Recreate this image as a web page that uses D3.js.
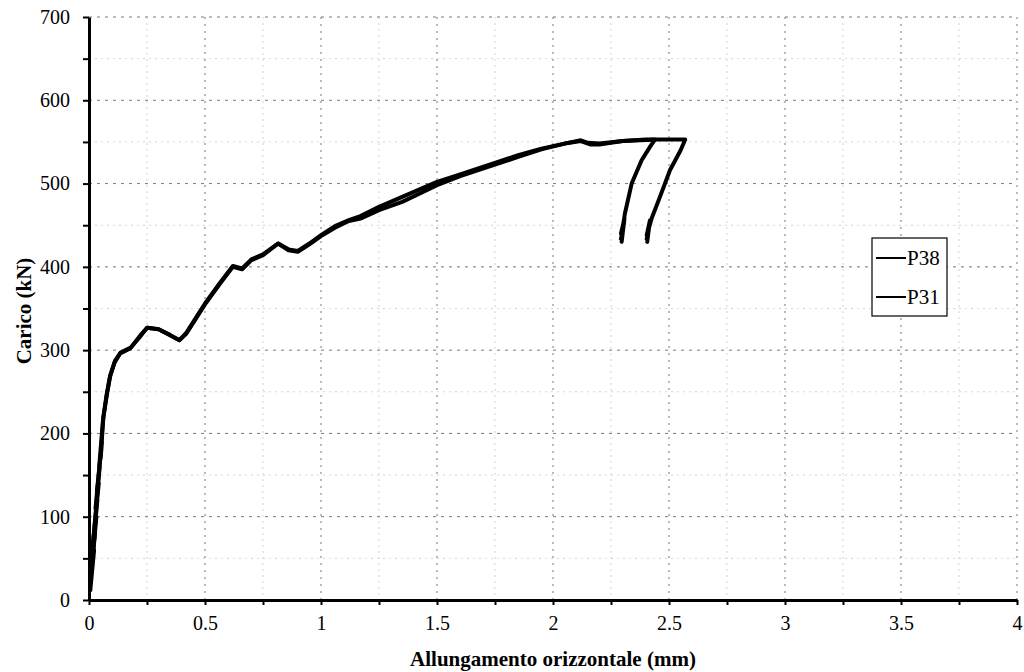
<!DOCTYPE html>
<html>
<head>
<meta charset="utf-8">
<script src="https://cdn.jsdelivr.net/npm/d3@7"></script>
<style>
  body { margin: 0; background: #fff; }
  text { font-family: "Liberation Serif", "Times New Roman", serif; }
</style>
</head>
<body>
<svg id="chart" width="1024" height="672"></svg>
<script>
// data: load (kN) vs horizontal elongation (mm)
var xTicks = [0, 0.5, 1, 1.5, 2, 2.5, 3, 3.5, 4]
var xTickLabels = ['0', '0.5', '1', '1.5', '2', '2.5', '3', '3.5', '4']
var yTicks = [0, 100, 200, 300, 400, 500, 600, 700]
var seriesNames = ['P38', 'P31']

var p38X = [0.005, 0.022, 0.008, 0.032, 0.014, 0.042, 0.028, 0.052, 0.044, 0.06, 0.075, 0.09, 0.11, 0.134, 0.177, 0.22, 0.25, 0.3, 0.35, 0.39, 0.42, 0.5, 0.565, 0.62, 0.66, 0.7, 0.75, 0.815, 0.86, 0.9, 0.95, 1.0, 1.06, 1.12, 1.17, 1.25, 1.35, 1.5, 1.6, 1.73, 1.85, 1.95, 2.05, 2.12, 2.15, 2.2, 2.3, 2.4, 2.44, 2.42, 2.382, 2.339, 2.31, 2.302, 2.296, 2.308, 2.293, 2.306, 2.292]
var p38Y = [10, 60, 30, 100, 60, 140, 110, 180, 160, 215, 245, 268, 285, 296, 302, 316, 327, 325, 318, 312, 320, 355, 380, 400, 397, 408, 414, 428, 420, 418, 427, 437, 447, 455, 458, 468, 478, 498, 509, 521, 532, 541, 548, 552, 549, 548, 551, 553, 553, 545, 528, 500, 464, 450, 430, 458, 440, 452, 432]

var p31X = [0.005, 0.026, 0.01, 0.036, 0.018, 0.046, 0.034, 0.056, 0.05, 0.062, 0.078, 0.092, 0.112, 0.136, 0.18, 0.222, 0.252, 0.3, 0.35, 0.39, 0.42, 0.5, 0.565, 0.62, 0.66, 0.7, 0.75, 0.815, 0.86, 0.9, 0.95, 1.0, 1.06, 1.12, 1.17, 1.25, 1.35, 1.5, 1.6, 1.73, 1.85, 1.95, 2.05, 2.12, 2.16, 2.2, 2.3, 2.45, 2.57, 2.55, 2.504, 2.461, 2.425, 2.412, 2.406, 2.418, 2.404, 2.416, 2.403]
var p31Y = [20, 80, 40, 120, 70, 160, 130, 190, 170, 220, 248, 270, 287, 297, 303, 318, 327, 325, 318, 312, 321, 356, 381, 401, 398, 409, 415, 428, 421, 419, 428, 438, 449, 456, 461, 472, 484, 502, 511, 523, 534, 542, 548, 551, 547, 547, 551, 553, 553, 540, 516, 484, 458, 445, 430, 456, 438, 450, 432]

var svg = d3.select('#chart')
var mLeft = 89, mRight = 1017, mTop = 17, mBottom = 600

var x = d3.scaleLinear().domain([0, 4]).range([mLeft, mRight])
var y = d3.scaleLinear().domain([0, 700]).range([mBottom, mTop])

// grid: faint minor lines, then darker major ones
var minorX = d3.range(0.25, 4, 0.5)
var minorY = d3.range(50, 700, 100)
var grid = svg.append('g')
grid.selectAll('line.mx').data(minorX).enter().append('line')
    .attr('x1', d => x(d)).attr('x2', d => x(d))
    .attr('y1', mTop).attr('y2', mBottom)
    .attr('stroke', '#d4d4d4').attr('stroke-dasharray', '2,4')
grid.selectAll('line.my').data(minorY).enter().append('line')
    .attr('x1', mLeft).attr('x2', mRight)
    .attr('y1', d => y(d)).attr('y2', d => y(d))
    .attr('stroke', '#d4d4d4').attr('stroke-dasharray', '2,4')
grid.selectAll('line.gx').data(xTicks.slice(1)).enter().append('line')
    .attr('x1', d => x(d)).attr('x2', d => x(d))
    .attr('y1', mTop).attr('y2', mBottom)
    .attr('stroke', '#777').attr('stroke-dasharray', '2,5')
grid.selectAll('line.gy').data(yTicks.slice(1)).enter().append('line')
    .attr('x1', mLeft).attr('x2', mRight)
    .attr('y1', d => y(d)).attr('y2', d => y(d))
    .attr('stroke', '#777').attr('stroke-dasharray', '3,5')

// curves
var series = [
    p38X.map((v, i) => ({x: v, y: p38Y[i]})),
    p31X.map((v, i) => ({x: v, y: p31Y[i]}))
]
var line = d3.line().x(d => x(d.x)).y(d => y(d.y))
svg.append('g').selectAll('path').data(series).enter().append('path')
    .attr('d', line)
    .attr('fill', 'none')
    .attr('stroke', '#000')
    .attr('stroke-width', 4)
    .attr('stroke-linejoin', 'round')

// axes
var xAxis = svg.append('g').attr('transform', 'translate(0,' + mBottom + ')')
    .call(d3.axisBottom(x).tickValues(d3.range(0, 4.01, 0.25)).tickSize(5).tickSizeOuter(0)
        .tickFormat(d => { var k = xTicks.indexOf(d); return k < 0 ? '' : xTickLabels[k] }))
var yAxis = svg.append('g').attr('transform', 'translate(' + mLeft + ',0)')
    .call(d3.axisLeft(y).tickValues(d3.range(0, 701, 50)).tickSize(6).tickSizeOuter(0)
        .tickFormat(d => yTicks.indexOf(d) < 0 ? '' : d))
;[xAxis, yAxis].forEach(a => {
    a.select('.domain').attr('stroke', '#000').attr('stroke-width', 3)
    a.selectAll('.tick line').attr('stroke', '#000').attr('stroke-width', 2)
    a.selectAll('.tick text').attr('font-size', 20).attr('fill', '#000')
        .style('font-family', '"Liberation Serif", serif')
})
xAxis.selectAll('.tick text').attr('dy', '1.1em')
yAxis.selectAll('.tick text').attr('x', -19)

// titles
svg.append('text')
    .attr('x', 553).attr('y', 666)
    .attr('text-anchor', 'middle')
    .attr('font-size', 21).attr('font-weight', 'bold')
    .text('Allungamento orizzontale (mm)')
svg.append('text')
    .attr('transform', 'translate(31,311) rotate(-90)')
    .attr('text-anchor', 'middle')
    .attr('font-size', 21).attr('font-weight', 'bold')
    .text('Carico (kN)')

// legend
var legend = svg.append('g').attr('transform', 'translate(872,238)')
legend.append('rect')
    .attr('width', 75).attr('height', 78)
    .attr('fill', '#fff').attr('stroke', '#000').attr('stroke-width', 1.2)
seriesNames.forEach((name, i) => {
    var ly = 20 + i * 39
    legend.append('line')
        .attr('x1', 4).attr('x2', 34).attr('y1', ly).attr('y2', ly)
        .attr('stroke', '#000').attr('stroke-width', 2)
    legend.append('text')
        .attr('x', 35).attr('y', ly + 7)
        .attr('font-size', 21)
        .text(name)
})
</script>
</body>
</html>
